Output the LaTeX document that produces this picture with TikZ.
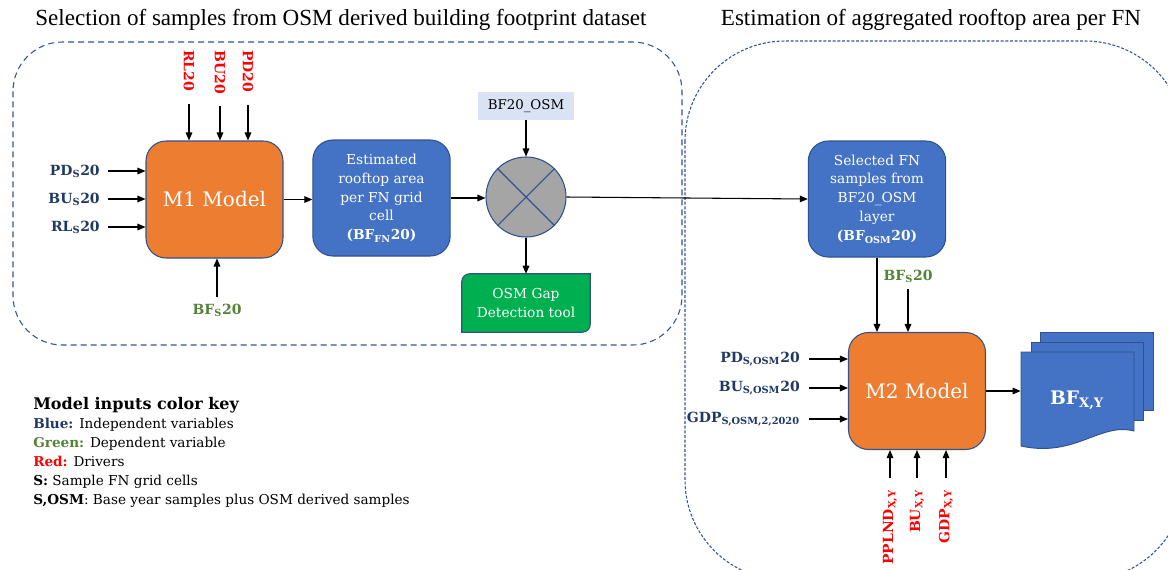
\documentclass[tikz,border=0pt]{standalone}
\usepackage{fontspec}
\setmainfont{DejaVu Serif}
\newfontfamily\titlefont{Liberation Serif}
\usetikzlibrary{arrows.meta,calc}
\pgfdeclarelayer{background}
\pgfsetlayers{background,main}
\definecolor{orangebox}{HTML}{ED7D31}
\definecolor{bluebox}{HTML}{4472C4}
\definecolor{boxline}{HTML}{2F528F}
\definecolor{navy}{HTML}{1F3864}
\definecolor{greentxt}{HTML}{548235}
\definecolor{redtxt}{HTML}{FF0000}
\definecolor{greenbox}{HTML}{00B050}
\definecolor{lightblue}{HTML}{DAE3F3}
\definecolor{graycirc}{HTML}{A5A5A5}
\definecolor{dashcol}{HTML}{2F5597}
\begin{document}
\begin{tikzpicture}[x=0.75pt,y=-0.75pt,
  arr/.style={-{Triangle[length=6pt,width=5pt]}, line width=0.8pt, black},
  model/.style={draw=boxline, line width=0.8pt, fill=orangebox, rounded corners=15pt, text=white, font=\fontsize{15}{18}\selectfont, minimum width=102.75pt, minimum height=87.75pt},
  bluenode/.style={draw=boxline, line width=0.8pt, fill=bluebox, rounded corners=15pt, text=white, align=center, font=\fontsize{10.3}{14.2}\selectfont, minimum width=103pt, minimum height=87pt},
  bluelab/.style={text=navy, font=\bfseries\fontsize{10.5}{12}\selectfont, inner sep=0pt},
  greenlab/.style={text=greentxt, font=\bfseries\fontsize{10.5}{12}\selectfont, inner sep=0pt},
  redlab/.style={text=redtxt, font=\bfseries\fontsize{10.5}{12}\selectfont, inner sep=0pt},
  title/.style={font=\titlefont\fontsize{17.3}{19}\selectfont, text=black}
]
\useasboundingbox (0,0) rectangle (1168,569);
% dashed group frames
\draw[dashcol, line width=0.8pt, dash pattern=on 4.5pt off 3pt, rounded corners=37pt] (13,42) rectangle (682,345);
\begin{scope}
  \clip (0,0) rectangle (1168,569);
  \draw[dashcol, line width=0.8pt, dash pattern=on 2.2pt off 1.3pt, rounded corners=75pt] (685,41) rectangle (1185,580);
\end{scope}
% titles
\node[title] (t1) at (341,20) {Selection of samples from OSM derived building footprint dataset};
\node[title] (t2) at (931,20) {Estimation of aggregated rooftop area per FN};

% M1 section
\node[model] (m1) at (214.5,199.5) {M1 Model};
\node[bluenode] (est) at (381.5,198) {Estimated\\rooftop area\\per FN grid\\cell\\\textbf{(BF\textsubscript{FN}20)}};
\node[draw=none, fill=lightblue, minimum width=72pt, minimum height=21pt, font=\fontsize{10}{12}\selectfont] (osm) at (526,106) {BF20\_OSM};
\node[circle, draw=boxline, line width=0.8pt, fill=graycirc, minimum size=60pt, inner sep=0pt] (cx) at (526,197) {};
\draw[boxline, line width=0.8pt] (cx.45) -- (cx.225) (cx.135) -- (cx.-45);
\node[minimum width=96pt, minimum height=43.5pt, text=white, align=center, font=\fontsize{10.3}{14.2}\selectfont] (gap) at (526,303) {OSM Gap\\Detection tool};
\begin{pgfonlayer}{background}
  \draw[boxline, line width=0.8pt, fill=greenbox] ($(gap.south west)$) -- ($(gap.north west)+(0,8)$) arc[start angle=180, end angle=90, radius=6pt] -- (gap.north east) -- ($(gap.south east)+(0,-8)$) arc[start angle=0, end angle=-90, radius=6pt] -- cycle;
\end{pgfonlayer}

\node[bluelab, anchor=east] (pd1) at (100,171) {PD\textsubscript{S}20};
\node[bluelab, anchor=east] (bu1) at (100,199) {BU\textsubscript{S}20};
\node[bluelab, anchor=east] (rl1) at (100,227) {RL\textsubscript{S}20};
\draw[arr, shorten <=6pt] (pd1.east) -- (pd1.east -| m1.west);
\draw[arr, shorten <=6pt] (bu1.east) -- (bu1.east -| m1.west);
\draw[arr, shorten <=6pt] (rl1.east) -- (rl1.east -| m1.west);

\node[redlab, rotate=-90, anchor=west] (rlt) at (189,50) {RL20};
\node[redlab, rotate=-90, anchor=west] (but) at (220,50) {BU20};
\node[redlab, rotate=-90, anchor=west] (pdt) at (248,50) {PD20};
\draw[arr, shorten <=9pt] (rlt.east) -- (rlt.east |- m1.north);
\draw[arr, shorten <=9pt] (but.east) -- (but.east |- m1.north);
\draw[arr, shorten <=9pt] (pdt.east) -- (pdt.east |- m1.north);

\node[greenlab] (bfs1) at (217,310) {BF\textsubscript{S}20};
\draw[arr, shorten <=5pt] (bfs1.north) -- (bfs1.north |- m1.south);

\draw[arr] (m1.east) -- (m1.east -| est.west);
\draw[arr] (est.east) -- (est.east -| cx.west);
\draw[arr] (osm.south) -- (cx.north);
\draw[arr] (cx.south) -- (gap.north);

% M2 section
\node[bluenode] (sel) at (877,199) {Selected FN\\samples from\\BF20\_OSM\\layer\\\textbf{(BF\textsubscript{OSM}20)}};
\draw[arr] (cx.east) -- (sel.west);
\node[model] (m2) at (917,391) {M2 Model};
\draw[arr] (sel.south) -- (sel.south |- m2.north);
\node[greenlab] (bfs2) at (908,276) {BF\textsubscript{S}20};
\draw[arr, shorten <=5pt] (bfs2.south) -- (bfs2.south |- m2.north);

\node[bluelab, anchor=east] (pd2) at (800,359) {PD\textsubscript{S,OSM}20};
\node[bluelab, anchor=east] (bu2) at (800,388) {BU\textsubscript{S,OSM}20};
\node[bluelab, anchor=east] (gdp2) at (800,419) {GDP\textsubscript{S,OSM,2,2020}};
\draw[arr, shorten <=7pt] (pd2.east) -- (pd2.east -| m2.west);
\draw[arr, shorten <=7pt] (bu2.east) -- (bu2.east -| m2.west);
\draw[arr, shorten <=7pt] (gdp2.east) -- (gdp2.east -| m2.west);

\node[redlab, rotate=90, anchor=east] (ppl) at (890,490) {PPLND\textsubscript{X,Y}};
\node[redlab, rotate=90, anchor=east] (bub) at (917,490) {BU\textsubscript{X,Y}};
\node[redlab, rotate=90, anchor=east] (gdpb) at (946,490) {GDP\textsubscript{X,Y}};
\draw[arr, shorten <=9pt] (ppl.east) -- (ppl.east |- m2.south);
\draw[arr, shorten <=9pt] (bub.east) -- (bub.east |- m2.south);
\draw[arr, shorten <=9pt] (gdpb.east) -- (gdpb.east |- m2.south);

% multi-document output
\node[minimum width=85pt, minimum height=70pt, inner sep=0pt] (doc) at (1077.5,400) {};
\node[text=white, font=\bfseries\fontsize{14}{16}\selectfont] (bfxy) at (1077,400) {BF\textsubscript{X,Y}};
\begin{pgfonlayer}{background}
  \draw[boxline, line width=0.7pt, fill=bluebox] (1040,332) rectangle (1153,410);
  \draw[boxline, line width=0.7pt, fill=bluebox] (1031,342) rectangle (1143,420);
  \draw[boxline, line width=0.7pt, fill=bluebox] (1021,352) -- (1134,352) -- (1134,431)
     .. controls (1100,422) and (1075,458) .. (1021,446) -- cycle;
\end{pgfonlayer}
\draw[arr] (m2.east) -- (m2.east -| doc.west);

% legend
\node[anchor=north west, align=left, inner sep=0pt, font=\fontsize{10.2}{14.25}\selectfont] (key) at (33,397) {%
{\bfseries\fontsize{12}{14.25}\selectfont Model inputs color key}\\
\textbf{\textcolor{navy}{Blue:}} Independent variables\\
\textbf{\textcolor{greentxt}{Green:}} Dependent variable\\
\textbf{\textcolor{redtxt}{Red:}} Drivers\\
\textbf{S:} Sample FN grid cells\\
\textbf{S,OSM}: Base year samples plus OSM derived samples};
\end{tikzpicture}
\end{document}
